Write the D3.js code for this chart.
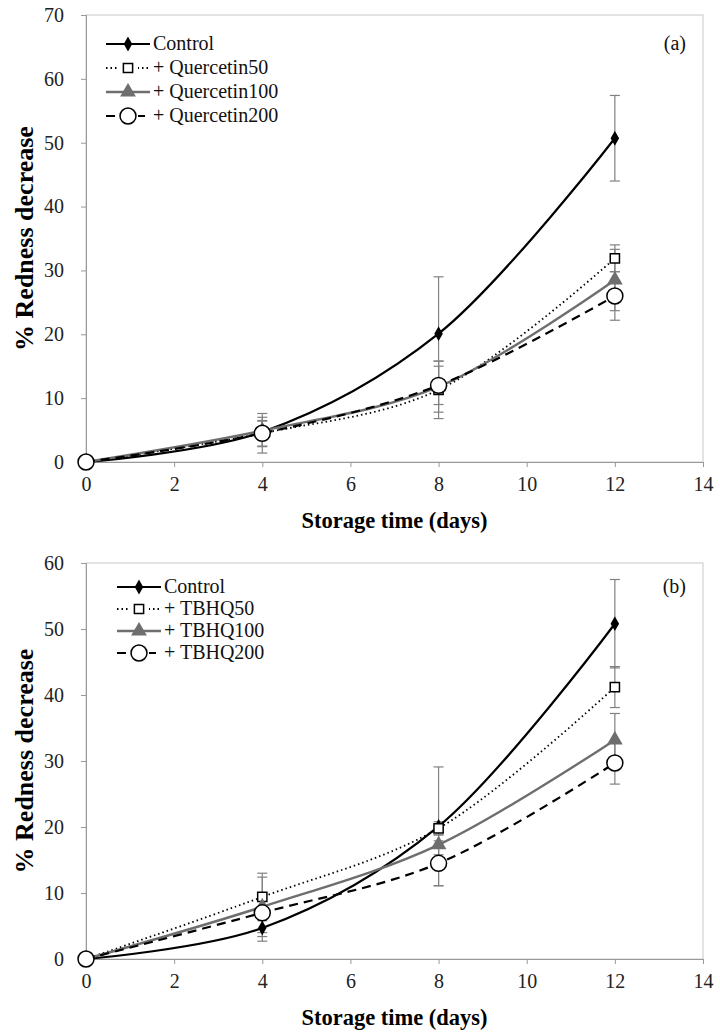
<!DOCTYPE html>
<html><head><meta charset="utf-8">
<script src="https://cdn.jsdelivr.net/npm/d3@7"></script>
<style>body{margin:0;background:#fff}svg{display:block}
svg text{font-family:"Liberation Serif","Times New Roman","DejaVu Serif",serif;}</style>
</head><body>
<script>
const days = [0, 4, 8, 12];
const xTicks = [0, 2, 4, 6, 8, 10, 12, 14];

// Panel (a)
const aNames = ["Control", "+ Quercetin50", "+ Quercetin100", "+ Quercetin200"];
const aControl = [0, 4.7, 20.1, 50.7];
const aControlErr = [0, 2.3, 8.9, 6.7];
const aQ50 = [0, 4.5, 11.3, 31.9];
const aQ50Err = [0, 3.1, 4.5, 2.1];
const aQ100 = [0, 4.9, 11.8, 28.5];
const aQ100Err = [0, 1.5, 4.0, 4.8];
const aQ200 = [0, 4.5, 12.0, 26.0];
const aQ200Err = [0, 2.0, 3.0, 3.8];
const aYTicks = [0, 10, 20, 30, 40, 50, 60, 70];

// Panel (b)
const bNames = ["Control", "+ TBHQ50", "+ TBHQ100", "+ TBHQ200"];
const bControl = [0, 4.7, 20.1, 50.8];
const bControlErr = [0, 2.0, 9.0, 6.7];
const bT50 = [0, 9.4, 19.8, 41.2];
const bT50Err = [0, 3.6, 1.0, 3.1];
const bT100 = [0, 7.9, 17.3, 33.2];
const bT100Err = [0, 4.5, 1.5, 4.0];
const bT200 = [0, 7.0, 14.5, 29.7];
const bT200Err = [0, 3.0, 3.4, 3.2];
const bYTicks = [0, 10, 20, 30, 40, 50, 60];

const styles = [
  {stroke: "#000", width: 2.2, dash: null, marker: "diamond", fill: "#000", mstroke: "#000"},
  {stroke: "#000", width: 1.8, dash: "1.5,3", marker: "square", fill: "#fff", mstroke: "#000"},
  {stroke: "#6e6e6e", width: 2.4, dash: null, marker: "triangle", fill: "#6e6e6e", mstroke: "#6e6e6e"},
  {stroke: "#000", width: 2.2, dash: "9,6", marker: "circle", fill: "#fff", mstroke: "#000"}
];

const W = 720, H = 1036;
const svg = d3.select("body").append("svg").attr("width", W).attr("height", H);

function markerPath(type) {
  if (type === "diamond") return d3.symbol().type(d3.symbolDiamond).size(40)();
  if (type === "square") return d3.symbol().type(d3.symbolSquare).size(85)();
  if (type === "triangle") return d3.symbol().type(d3.symbolTriangle).size(75)();
  return d3.symbol().type(d3.symbolCircle).size(200)();
}

function panel(cfg) {
  const x = d3.scaleLinear().domain([0, 14]).range([86, 703]);
  const y = d3.scaleLinear().domain([0, cfg.ymax]).range([cfg.y0, cfg.ytop]);
  const g = svg.append("g");

  g.append("rect").attr("x", 86).attr("y", cfg.ytop).attr("width", 703 - 86).attr("height", cfg.y0 - cfg.ytop)
    .attr("fill", "none").attr("stroke", "#c8c8c8").attr("stroke-width", 1);

  const xa = g.append("g").attr("transform", `translate(0,${cfg.y0})`)
    .call(d3.axisBottom(x).tickValues(xTicks).tickSize(5).tickPadding(10).tickFormat(d3.format("d")));
  const ya = g.append("g").attr("transform", `translate(86,0)`)
    .call(d3.axisLeft(y).tickValues(cfg.yticks).tickSize(5).tickPadding(17).tickFormat(d3.format("d")));
  [xa, ya].forEach(a => {
    a.attr("font-family", null);
    a.selectAll("path").attr("stroke", "#999");
    a.selectAll("line").attr("stroke", "#999");
    a.selectAll("text").attr("font-size", 20).attr("fill", "#222");
  });

  cfg.series.forEach((s, i) => {
    s.vals.forEach((v, j) => {
      const e = s.err[j];
      if (!e) return;
      const cx = x(days[j]);
      g.append("line").attr("x1", cx).attr("x2", cx).attr("y1", y(v - e)).attr("y2", y(v + e))
        .attr("stroke", "#808080").attr("stroke-width", 1.2);
      [v - e, v + e].forEach(t => g.append("line").attr("x1", cx - 5).attr("x2", cx + 5)
        .attr("y1", y(t)).attr("y2", y(t)).attr("stroke", "#808080").attr("stroke-width", 1.2));
    });
  });

  const line = d3.line().x((d, j) => x(days[j])).y(d => y(d)).curve(d3.curveCatmullRom.alpha(0.5));
  cfg.series.forEach((s, i) => {
    const st = styles[i];
    g.append("path").datum(s.vals).attr("d", line).attr("fill", "none")
      .attr("stroke", st.stroke).attr("stroke-width", st.width)
      .attr("stroke-dasharray", st.dash);
  });
  cfg.series.forEach((s, i) => {
    const st = styles[i];
    s.vals.forEach((v, j) => {
      g.append("path").attr("d", markerPath(st.marker))
        .attr("transform", `translate(${x(days[j])},${y(v)})`)
        .attr("fill", st.fill).attr("stroke", st.mstroke).attr("stroke-width", 1.5);
    });
  });

  cfg.names.forEach((n, i) => {
    const st = styles[i];
    const ly = cfg.legY + i * cfg.legDy;
    g.append("line").attr("x1", cfg.legX).attr("x2", cfg.legX + 44).attr("y1", ly).attr("y2", ly)
      .attr("stroke", st.stroke).attr("stroke-width", st.width).attr("stroke-dasharray", st.dash);
    g.append("rect").attr("x", cfg.legX + 12).attr("y", ly - 8).attr("width", 20).attr("height", 16)
      .attr("fill", st.dash ? "#fff" : "none");
    g.append("path").attr("d", markerPath(st.marker)).attr("transform", `translate(${cfg.legX + 22},${ly})`)
      .attr("fill", st.fill).attr("stroke", st.mstroke).attr("stroke-width", 1.5);
    g.append("text").attr("x", cfg.legX + 47).attr("y", ly + 6).text(n)
      .attr("font-size", 20).attr("fill", "#111");
  });

  g.append("text").attr("x", 686).attr("y", cfg.legY + 6).attr("text-anchor", "end").text(cfg.tag)
    .attr("font-size", 20).attr("fill", "#111");

  g.append("text").attr("x", 394.5).attr("y", cfg.y0 + 66).attr("text-anchor", "middle")
    .text("Storage time (days)").attr("font-size", 22.5).attr("font-weight", "bold");
  g.append("text").attr("transform", `translate(33,${(cfg.y0 + cfg.ytop) / 2}) rotate(-90)`)
    .attr("text-anchor", "middle").text("% Redness decrease")
    .attr("font-size", 26).attr("font-weight", "bold");
}

panel({
  ymax: 70, y0: 462, ytop: 15, yticks: aYTicks, names: aNames, tag: "(a)",
  legX: 106, legY: 44, legDy: 24,
  series: [
    {vals: aControl, err: aControlErr},
    {vals: aQ50, err: aQ50Err},
    {vals: aQ100, err: aQ100Err},
    {vals: aQ200, err: aQ200Err}
  ]
});
panel({
  ymax: 60, y0: 959, ytop: 563, yticks: bYTicks, names: bNames, tag: "(b)",
  legX: 117, legY: 587, legDy: 22,
  series: [
    {vals: bControl, err: bControlErr},
    {vals: bT50, err: bT50Err},
    {vals: bT100, err: bT100Err},
    {vals: bT200, err: bT200Err}
  ]
});
</script>
</body></html>
